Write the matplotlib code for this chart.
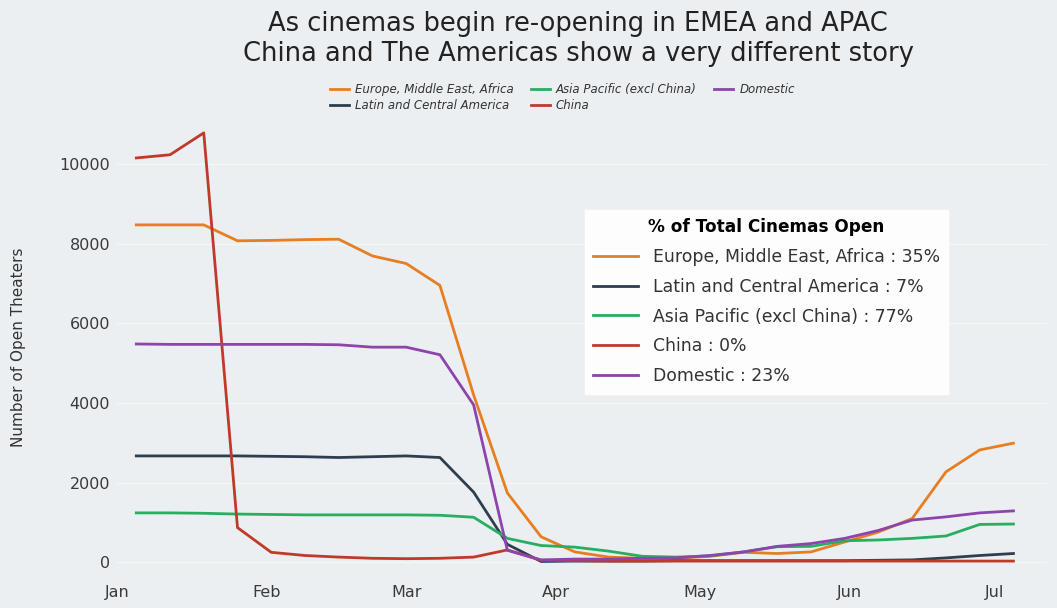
import numpy as np
import pandas as pd
import matplotlib
matplotlib.use('Agg')
import matplotlib.pyplot as plt
import matplotlib.dates as mdates

# weekly counts of open theaters
weeks = pd.date_range('2020-01-05', periods=27, freq='7D')

emea = [8470, 8470, 8470, 8070, 8080, 8100, 8110, 7690, 7500, 6950, 4200, 1740, 640,
        260, 130, 100, 100, 150, 250, 220, 260, 510, 760, 1100, 2270, 2820, 2990]
latam = [2670, 2670, 2670, 2670, 2660, 2650, 2630, 2650, 2670, 2630, 1760, 450, 20,
         30, 30, 30, 40, 40, 40, 40, 40, 40, 50, 60, 110, 170, 220]
apac = [1240, 1240, 1230, 1210, 1200, 1190, 1190, 1190, 1190, 1180, 1130, 600, 420,
        380, 280, 150, 130, 160, 260, 390, 400, 540, 560, 600, 660, 950, 960]
china = [10150, 10230, 10780, 870, 250, 170, 130, 100, 90, 100, 130, 310, 50,
         40, 30, 30, 30, 30, 30, 30, 30, 30, 30, 30, 30, 30, 30]
domestic = [5480, 5470, 5470, 5470, 5470, 5470, 5460, 5400, 5400, 5210, 3950, 300, 60,
            80, 80, 100, 110, 170, 260, 400, 470, 600, 800, 1060, 1140, 1240, 1290]

names = ['Europe, Middle East, Africa', 'Latin and Central America',
         'Asia Pacific (excl China)', 'China', 'Domestic']
pct_open = [35, 7, 77, 0, 23]
colors = ['#e67e22', '#2c3e50', '#27ae60', '#c0392b', '#8e44ad']

bg = '#eceff1'
fig = plt.figure(figsize=(10.57, 6.08), dpi=100, facecolor=bg)
ax = fig.add_axes([0.1107, 0.049, 0.88, 0.76], facecolor=bg)

handles = []
for vals, name, c in zip([emea, latam, apac, china, domestic], names, colors):
    h, = ax.plot(weeks, vals, color=c, lw=2.0, label=name)
    handles.append(h)

ax.set_xlim(pd.Timestamp('2020-01-01'), pd.Timestamp('2020-07-12'))
ax.set_ylim(-400, 11200)
ax.set_yticks([0, 2000, 4000, 6000, 8000, 10000])
ax.xaxis.set_major_locator(mdates.MonthLocator())
ax.xaxis.set_major_formatter(mdates.DateFormatter('%b'))
ax.tick_params(labelsize=11.5, length=0, colors='#3a3a3a', pad=5)
ax.grid(True, axis='y', color='#f3f5f6', lw=1)
ax.set_axisbelow(True)
for s in ax.spines.values():
    s.set_visible(False)

ax.set_ylabel('Number of Open Theaters', fontsize=11, color='#333333', labelpad=24)

fig.suptitle('As cinemas begin re-opening in EMEA and APAC\nChina and The Americas show a very different story',
             fontsize=18.5, x=0.547, y=0.982, color='#222222')

# small legend under the title
leg1 = fig.legend(handles=handles, labels=names, ncol=3, loc='center',
                  bbox_to_anchor=(0.532, 0.84), frameon=False,
                  prop={'size': 8.5, 'style': 'italic'}, handlelength=1.6,
                  columnspacing=1.5, labelspacing=0.25, handletextpad=0.5)
for t in leg1.get_texts():
    t.set_color('#333333')

# percentage legend inside the plot
labels2 = ['%s : %d%%' % (n, p) for n, p in zip(names, pct_open)]
leg2 = ax.legend(handles=handles, labels=labels2, loc='upper left',
                 bbox_to_anchor=(0.553, 0.655), bbox_transform=fig.transFigure,
                 borderaxespad=0, fontsize=12.4, title='% of Total Cinemas Open',
                 title_fontproperties={'size': 12.2, 'weight': 'bold'},
                 handlelength=2.6, handletextpad=0.85, labelspacing=0.68,
                 facecolor='white', edgecolor='white', framealpha=0.9,
                 fancybox=False, borderpad=0.5)
for t in leg2.get_texts():
    t.set_color('#333333')

fig.savefig('out.png', dpi=100, facecolor=bg)
